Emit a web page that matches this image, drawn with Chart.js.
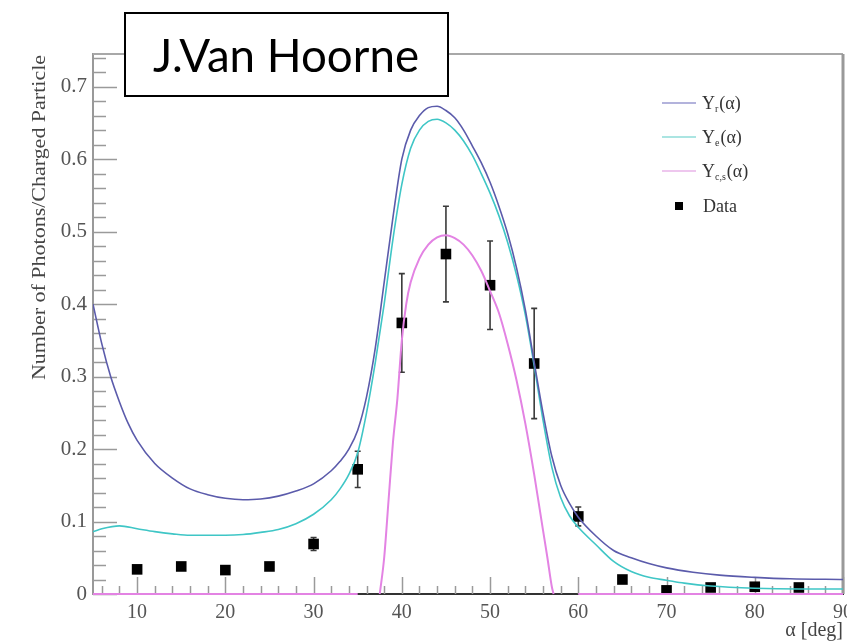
<!DOCTYPE html>
<html>
<head>
<meta charset="utf-8">
<script src="https://cdn.jsdelivr.net/npm/chart.js@4"></script>
<style>body{margin:0;background:#fff}</style>
</head>
<body>
<canvas id="chart" width="847" height="643"></canvas>
<script>
// tick labels
const xTicks = [10, 20, 30, 40, 50, 60, 70, 80, 90];
const yTicks = [0, 0.1, 0.2, 0.3, 0.4, 0.5, 0.6, 0.7];

// Y_r(alpha)
const yrX = [5, 6, 7, 8, 9, 10, 12, 14, 16, 18, 20, 22, 24, 26, 28, 30, 32, 33, 34, 35, 36, 37, 38, 39, 40, 41, 42, 43, 44, 45, 46, 47, 48, 49, 50, 51, 52, 53, 54, 55, 56, 57, 58, 59, 60, 62, 64, 66, 68, 70, 73, 76, 80, 84, 90];
const yrY = [0.40, 0.345, 0.30, 0.265, 0.235, 0.212, 0.18, 0.16, 0.145, 0.137, 0.132, 0.13, 0.131, 0.135, 0.142, 0.152, 0.17, 0.183, 0.2, 0.226, 0.272, 0.34, 0.43, 0.52, 0.60, 0.64, 0.66, 0.671, 0.673, 0.667, 0.657, 0.64, 0.618, 0.595, 0.568, 0.535, 0.497, 0.45, 0.392, 0.32, 0.25, 0.19, 0.15, 0.125, 0.106, 0.08, 0.06, 0.05, 0.042, 0.036, 0.03, 0.026, 0.023, 0.021, 0.02];

// Y_e(alpha)
const yeX = [5, 6, 8, 10, 12, 14, 16, 18, 20, 22, 24, 26, 28, 30, 32, 33, 34, 35, 36, 37, 38, 39, 40, 41, 42, 43, 44, 45, 46, 47, 48, 49, 50, 51, 52, 53, 54, 55, 56, 57, 58, 59, 60, 62, 64, 66, 68, 70, 72, 75, 80, 85, 90];
const yeY = [0.086, 0.09, 0.094, 0.09, 0.086, 0.083, 0.081, 0.081, 0.081, 0.082, 0.085, 0.089, 0.097, 0.11, 0.13, 0.145, 0.165, 0.195, 0.25, 0.32, 0.40, 0.49, 0.565, 0.615, 0.64, 0.652, 0.655, 0.65, 0.64, 0.625, 0.605, 0.58, 0.553, 0.522, 0.485, 0.44, 0.385, 0.315, 0.24, 0.175, 0.133, 0.108, 0.092, 0.068, 0.045, 0.031, 0.023, 0.019, 0.015, 0.011, 0.008, 0.007, 0.007];

// Y_c,s(alpha)  (null = gap in the drawn line)
const ycsX = [5, 35, 36, 37.5, 38, 38.5, 39, 39.5, 40, 40.5, 41, 42, 43, 44, 45, 46, 47, 48, 49, 50, 51, 52, 53, 54, 55, 56, 56.5, 57, 57.2, 58.5, 60, 90];
const ycsY = [0, 0, null, 0, 0.05, 0.13, 0.21, 0.27, 0.35, 0.40, 0.43, 0.463, 0.482, 0.492, 0.495, 0.491, 0.482, 0.467, 0.446, 0.418, 0.388, 0.345, 0.295, 0.235, 0.165, 0.088, 0.05, 0.01, 0, null, 0, 0];

// measured data
const dataX = [10, 15, 20, 25, 30, 35, 40, 45, 50, 55, 60, 65, 70, 75, 80, 85];
const dataY = [0.034, 0.038, 0.033, 0.038, 0.069, 0.172, 0.374, 0.469, 0.426, 0.318, 0.107, 0.020, 0.005, 0.009, 0.010, 0.009];
const dataErr = [0.004, 0.004, 0.004, 0.004, 0.009, 0.025, 0.068, 0.066, 0.061, 0.076, 0.013, 0.004, 0.003, 0.003, 0.003, 0.003];

const legendItems = [
  {main: 'Y', sub: 'r', color: '#9a9ad0'},
  {main: 'Y', sub: 'e', color: '#8fdcd8'},
  {main: 'Y', sub: 'c,s', color: '#e9b4e9'}
];
const yTitle = 'Number of Photons/Charged Particle';

const pts = (xs, ys) => xs.map((v, i) => ({x: v, y: ys[i]}));
const serif = '"Liberation Serif", "DejaVu Serif", serif';

const rootStyle = {
  id: 'rootStyle',
  beforeDatasetsDraw(chart) {
    const {ctx, chartArea: a, scales: {x, y}} = chart;
    ctx.save();
    // inward ticks, ROOT style
    ctx.strokeStyle = '#9a9a9a';
    ctx.lineWidth = 1.5;
    ctx.beginPath();
    for (let i = 0; i <= 37; i++) {
      const py = Math.round(y.getPixelForValue(i * 0.02)) + 0.5;
      const len = i % 5 === 0 ? 24 : 13;
      ctx.moveTo(a.left, py);
      ctx.lineTo(a.left + len, py);
    }
    for (let d = 6; d <= 90; d += 2) {
      const px = Math.round(x.getPixelForValue(d)) + 0.5;
      const len = d % 10 === 0 ? 17 : 8;
      ctx.moveTo(px, a.bottom);
      ctx.lineTo(px, a.bottom - len);
    }
    ctx.stroke();
    // frame top and right
    ctx.strokeStyle = '#a8a8a8';
    ctx.lineWidth = 2;
    ctx.beginPath();
    ctx.moveTo(a.left, a.top);
    ctx.lineTo(a.right, a.top);
    ctx.stroke();
    ctx.strokeStyle = '#999';
    ctx.lineWidth = 3;
    ctx.beginPath();
    ctx.moveTo(a.right, a.top);
    ctx.lineTo(a.right, a.bottom);
    ctx.stroke();

    // error bars (under the markers)
    ctx.strokeStyle = '#3a3a3a';
    ctx.lineWidth = 1.6;
    ctx.beginPath();
    dataX.forEach((v, i) => {
      const px = x.getPixelForValue(v);
      const top = y.getPixelForValue(dataY[i] + dataErr[i]);
      const bot = y.getPixelForValue(dataY[i] - dataErr[i]);
      ctx.moveTo(px, top); ctx.lineTo(px, bot);
      ctx.moveTo(px - 3, top); ctx.lineTo(px + 3, top);
      ctx.moveTo(px - 3, bot); ctx.lineTo(px + 3, bot);
    });
    ctx.stroke();

    // y title, stretched along the axis like the original
    ctx.translate(40, 380);
    ctx.rotate(-Math.PI / 2);
    ctx.font = '18px ' + serif;
    const w = ctx.measureText(yTitle).width;
    ctx.scale(325 / w, 1);
    ctx.fillStyle = '#444';
    ctx.textBaseline = 'middle';
    ctx.fillText(yTitle, 0, 0);
    ctx.restore();
  },
  afterDatasetsDraw(chart) {
    const {ctx, chartArea: a} = chart;
    ctx.save();
    // legend
    const lx = a.right - 181, ly = a.top + 49;
    legendItems.forEach((it, i) => {
      const yy = ly + i * 34;
      ctx.strokeStyle = it.color;
      ctx.lineWidth = 1.5;
      ctx.beginPath();
      ctx.moveTo(lx, yy); ctx.lineTo(lx + 34, yy);
      ctx.stroke();
      ctx.fillStyle = '#333';
      ctx.textBaseline = 'alphabetic';
      ctx.font = '18px ' + serif;
      ctx.fillText(it.main, lx + 40, yy + 6);
      let w = ctx.measureText(it.main).width;
      ctx.font = '10px ' + serif;
      ctx.fillText(it.sub, lx + 40 + w, yy + 9);
      w += ctx.measureText(it.sub).width;
      ctx.font = '18px ' + serif;
      ctx.fillText('(\u03b1)', lx + 41 + w, yy + 6);
    });
    const dy = ly + 3 * 34 + 1;
    ctx.fillStyle = '#000';
    ctx.fillRect(lx + 13, dy - 4, 8, 8);
    ctx.fillStyle = '#333';
    ctx.font = '18px ' + serif;
    ctx.fillText('Data', lx + 41, dy + 6);

    // author box
    ctx.fillStyle = '#fff';
    ctx.fillRect(125, 13, 323, 83);
    ctx.strokeStyle = '#000';
    ctx.lineWidth = 2;
    ctx.strokeRect(125, 13, 323, 83);
    ctx.font = '100px Lato';
    const tw = ctx.measureText('J.Van Hoorne').width;
    const fs = 100 * 266 / tw;
    ctx.font = fs.toFixed(1) + 'px Lato';
    ctx.fillStyle = '#000';
    ctx.textAlign = 'center';
    ctx.fillText('J.Van Hoorne', 286, 72);
    ctx.restore();
  }
};

const noSidePad = s => {
  s.paddingLeft = 0; s.paddingRight = 0;
  if (s._margins) { s._margins.left = 0; s._margins.right = 0; }
};

new Chart(document.getElementById('chart'), {
  type: 'line',
  data: {
    datasets: [
      {label: 'Yr', data: pts(yrX, yrY), borderColor: '#5b5bab', borderWidth: 1.6, pointRadius: 0, cubicInterpolationMode: 'monotone'},
      {label: 'Ye', data: pts(yeX, yeY), borderColor: '#3fc6c6', borderWidth: 1.6, pointRadius: 0, cubicInterpolationMode: 'monotone'},
      {label: 'Ycs', data: pts(ycsX, ycsY), borderColor: '#e383e3', borderWidth: 2, pointRadius: 0, cubicInterpolationMode: 'monotone', spanGaps: false, clip: 4},
      {label: 'Data', data: pts(dataX, dataY), showLine: false, pointStyle: 'rect', pointRadius: 7.5, backgroundColor: '#000', borderColor: '#000', borderWidth: 0}
    ]
  },
  options: {
    responsive: false,
    animation: false,
    layout: {autoPadding: false, padding: {top: 54, right: 4, left: 0, bottom: 0}},
    plugins: {legend: {display: false}, tooltip: {enabled: false}},
    scales: {
      x: {
        type: 'linear', min: 5, max: 90,
        afterBuildTicks: s => { s.ticks = xTicks.map(v => ({value: v})); },
        afterFit: s => { s.height = 49; noSidePad(s); },
        grid: {display: false, drawTicks: false},
        border: {display: true, color: '#333', width: 2},
        ticks: {color: '#555', padding: 7, maxRotation: 0, autoSkip: false, font: {family: serif, size: 20}},
        title: {display: true, text: '\u03b1 [deg]', align: 'end', color: '#444', padding: {top: 0, bottom: 0}, font: {family: serif, size: 20}}
      },
      y: {
        min: 0, max: 0.745,
        afterBuildTicks: s => { s.ticks = yTicks.map(v => ({value: v})); },
        afterFit: s => { s.width = 93; },
        grid: {display: false, drawTicks: false},
        border: {display: true, color: '#999', width: 2},
        ticks: {color: '#555', padding: 6, autoSkip: false, font: {family: serif, size: 21}}
      }
    }
  },
  plugins: [rootStyle]
});
</script>
</body>
</html>
